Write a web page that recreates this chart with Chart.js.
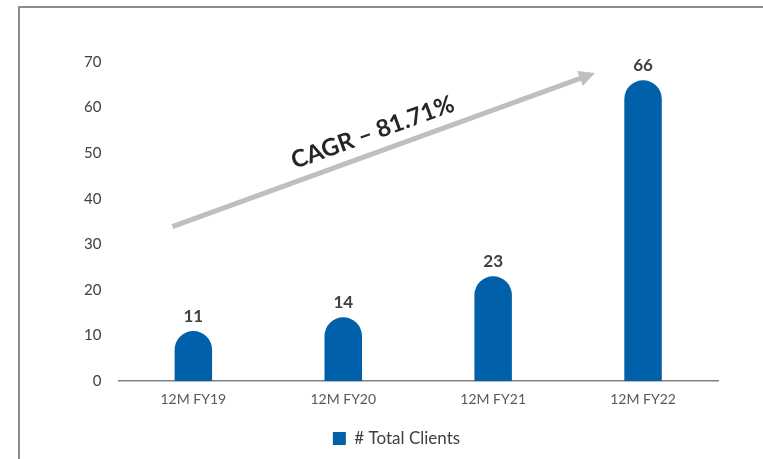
<!DOCTYPE html>
<html>
<head>
<meta charset="utf-8">
<script src="https://cdn.jsdelivr.net/npm/chart.js@4.4.0/dist/chart.umd.min.js"></script>
<style>
  html, body { margin: 0; padding: 0; background: #fff; }
  #wrap { position: relative; width: 763px; height: 459px; }
  #frame { position: absolute; left: 18px; top: 6px; right: 0; bottom: 0;
           border-left: 2px solid #8c8c8c; border-top: 2px solid #8c8c8c; }
  canvas { position: absolute; left: 0; top: 0; }
</style>
</head>
<body>
<div id="wrap">
  <div id="frame"></div>
  <canvas id="clients-chart" width="763" height="459"></canvas>
</div>
<script>
const categories = ['12M FY19', '12M FY20', '12M FY21', '12M FY22'];
const totalClients = [11, 14, 23, 66];
const yTicks = [0, 10, 20, 30, 40, 50, 60, 70];
const cagrLabel = 'CAGR \u2013 81.71%';

const barBlue = '#0060a9';
const darkText = '#404040';

// value labels above each bar
const valueLabels = {
    id: 'valueLabels',
    afterDatasetsDraw(chart) {
        const ctx = chart.ctx;
        const meta = chart.getDatasetMeta(0);
        ctx.save();
        ctx.font = 'bold 17px Lato';
        ctx.fillStyle = darkText;
        ctx.textAlign = 'center';
        ctx.textBaseline = 'bottom';
        meta.data.forEach((bar, i) => {
            ctx.fillText(String(totalClients[i]), bar.x, bar.y - 6);
        });
        ctx.restore();
    }
};

// growth arrow, anchored to the scales
const cagrArrow = {
    id: 'cagrArrow',
    afterDatasetsDraw(chart) {
        const ctx = chart.ctx;
        const xs = chart.scales.x, ys = chart.scales.y;
        const x0 = xs.getPixelForValue(-0.14), y0 = ys.getPixelForValue(33.9);
        const x1 = xs.getPixelForValue(2.68), y1 = ys.getPixelForValue(67.6);
        const ang = Math.atan2(y1 - y0, x1 - x0);
        ctx.save();
        ctx.strokeStyle = '#bfbfbf';
        ctx.fillStyle = '#bfbfbf';
        ctx.lineWidth = 5;
        ctx.beginPath();
        ctx.moveTo(x0, y0);
        ctx.lineTo(x1 - 12 * Math.cos(ang), y1 - 12 * Math.sin(ang));
        ctx.stroke();
        ctx.translate(x1, y1);
        ctx.rotate(ang);
        ctx.beginPath();
        ctx.moveTo(0, 0);
        ctx.lineTo(-16, -8);
        ctx.lineTo(-16, 8);
        ctx.closePath();
        ctx.fill();
        ctx.restore();

        // label
        const t = 0.49;
        const mx = x0 + (x1 - x0) * t, my = y0 + (y1 - y0) * t;
        ctx.save();
        ctx.translate(mx, my);
        ctx.rotate(ang);
        ctx.font = 'bold 24px Lato';
        ctx.fillStyle = '#262626';
        ctx.textAlign = 'center';
        ctx.textBaseline = 'middle';
        ctx.fillText(cagrLabel, 0, -20);
        ctx.restore();
    }
};

const ctx = document.getElementById('clients-chart').getContext('2d');
new Chart(ctx, {
    type: 'bar',
    data: {
        labels: categories,
        datasets: [{
            label: '# Total Clients',
            data: totalClients,
            backgroundColor: barBlue,
            borderRadius: { topLeft: 100, topRight: 100, bottomLeft: 0, bottomRight: 0 },
            borderSkipped: false,
            categoryPercentage: 1,
            barPercentage: 0.25
        }]
    },
    options: {
        responsive: false,
        animation: false,
        layout: { padding: { left: 75, right: 45, top: 62, bottom: 2 } },
        plugins: {
            tooltip: { enabled: false },
            legend: {
                position: 'bottom',
                labels: {
                    boxWidth: 13,
                    boxHeight: 13,
                    padding: 13,
                    color: darkText,
                    font: { family: 'Lato', size: 17 }
                }
            }
        },
        scales: {
            x: {
                grid: { display: false },
                border: { color: '#808080', width: 1.5 },
                ticks: {
                    color: '#595959',
                    padding: 2,
                    font: { family: 'Lato', size: 14 }
                },
                afterFit(axis) {
                    axis.height += 7;
                }
            },
            y: {
                min: 0,
                max: 70,
                grid: { display: false },
                border: { display: false },
                afterBuildTicks(axis) {
                    axis.ticks = yTicks.map(v => ({ value: v }));
                },
                ticks: {
                    color: darkText,
                    padding: 9,
                    font: { family: 'Lato', size: 15 }
                }
            }
        }
    },
    plugins: [valueLabels, cagrArrow]
});
</script>
</body>
</html>
